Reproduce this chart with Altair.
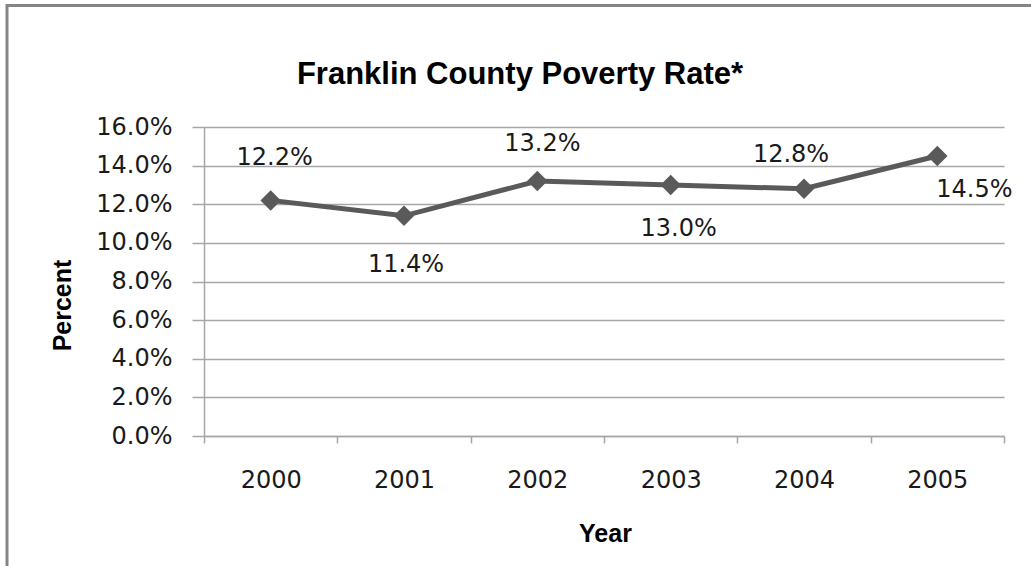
import altair as alt
import pandas as pd

# ---- data ----
years = ["2000", "2001", "2002", "2003", "2004", "2005"]
rates = [12.2, 11.4, 13.2, 13.0, 12.8, 14.5]
rate_labels = ["12.2%", "11.4%", "13.2%", "13.0%", "12.8%", "14.5%"]
y_ticks = [0, 2, 4, 6, 8, 10, 12, 14, 16]
title_text = "Franklin County Poverty Rate*"
x_title = "Year"
y_title = "Percent"

df = pd.DataFrame({"Year": years, "Rate": rates, "Label": rate_labels})

# label placement (dx, dy) in pixels, per point
label_offsets = [(4, -42), (2, 49), (5, -37), (8, 44), (-13, -34), (37, 34)]

# layout (pixels)
L, T, W, H = 204, 127, 800, 309
WIN_W, WIN_H = 1031, 566

GRID = "#a6a6a6"
LINE = "#5a5a5a"
TXT = "#1a1a1a"

x_enc = alt.X(
    "Year:N",
    sort=years,
    bandPosition=0.5,
    scale=alt.Scale(type="band", paddingInner=0, paddingOuter=0),
    axis=alt.Axis(
        title=x_title,
        titleX=W / 2 + 1,
        titleY=105,
        titleAlign="center",
        titleBaseline="alphabetic",
        titleFont="Liberation Sans",
        titleFontSize=25,
        titleFontWeight="bold",
        titleColor="#000000",
        labelAngle=0,
        labelFont="DejaVu Sans",
        labelFontSize=24,
        labelColor=TXT,
        labelPadding=25,
        labelBaseline="top",
        tickBand="extent",
        tickSize=7,
        tickColor=GRID,
        tickWidth=1.5,
        domainColor=GRID,
        domainWidth=1.5,
        grid=False,
    ),
)

y_enc = alt.Y(
    "Rate:Q",
    scale=alt.Scale(domain=[0, 16], nice=False, zero=True),
    axis=alt.Axis(
        values=y_ticks,
        labelExpr="format(datum.value, '.1f') + '%'",
        title=y_title,
        titleX=-134,
        titleY=178,
        titleAngle=270,
        titleAlign="center",
        titleBaseline="alphabetic",
        titleFont="Liberation Sans",
        titleFontSize=25,
        titleFontWeight="bold",
        titleColor="#000000",
        labelFont="DejaVu Sans",
        labelFontSize=24,
        labelColor=TXT,
        labelPadding=20,
        labelBaseline="middle",
        tickSize=12,
        tickColor=GRID,
        tickWidth=1.5,
        domainColor=GRID,
        domainWidth=1.5,
        grid=True,
        gridColor=GRID,
        gridWidth=1.5,
    ),
)

base = alt.Chart(df)

line = base.mark_line(color=LINE, strokeWidth=5).encode(x=x_enc, y=y_enc)
points = base.mark_point(
    shape="diamond", size=420, filled=True, color=LINE, opacity=1
).encode(x=x_enc, y=y_enc)

label_layers = []
for yr, (dx, dy) in zip(years, label_offsets):
    label_layers.append(
        base.transform_filter(alt.datum.Year == yr)
        .mark_text(
            dx=dx,
            dy=dy,
            font="DejaVu Sans",
            fontSize=24,
            color=TXT,
            baseline="middle",
            align="center",
        )
        .encode(x=x_enc, y=y_enc, text="Label:N")
    )

title_layer = (
    alt.Chart(pd.DataFrame({"t": [title_text]}))
    .mark_text(
        font="Liberation Sans",
        fontSize=31,
        fontWeight="bold",
        color="#000000",
        align="center",
        baseline="alphabetic",
    )
    .encode(x=alt.value(520 - L), y=alt.value(84 - T), text="t:N")
)

frame_df = pd.DataFrame({"a": [0]})
border_top = (
    alt.Chart(frame_df)
    .mark_rule(color="#858585", strokeWidth=3)
    .encode(x=alt.value(7 - L), x2=alt.value(WIN_W - L), y=alt.value(5.5 - T))
)
border_left = (
    alt.Chart(frame_df)
    .mark_rule(color="#858585", strokeWidth=3)
    .encode(x=alt.value(7 - L), y=alt.value(4 - T), y2=alt.value(WIN_H - T))
)

chart = (
    alt.layer(line, points, *label_layers, title_layer, border_top, border_left)
    .properties(
        width=W,
        height=H,
        autosize=alt.AutoSizeParams(type="none"),
        padding={"left": L, "top": T, "right": WIN_W - L - W, "bottom": WIN_H - T - H},
        background="#ffffff",
    )
    .configure_view(strokeWidth=0)
)

chart.save("out.html", embed_options={"renderer": "svg", "actions": False})
